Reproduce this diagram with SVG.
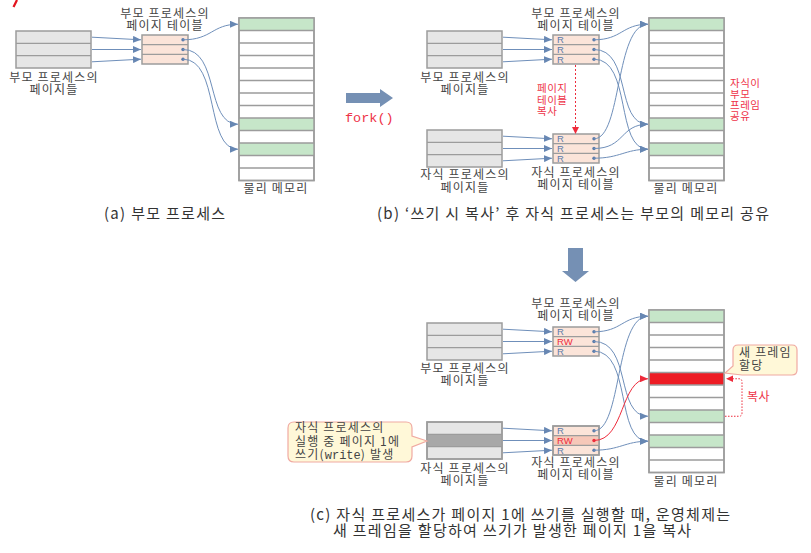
<svg xmlns="http://www.w3.org/2000/svg" width="811" height="553" viewBox="0 0 811 553">
<defs>
<marker id="ab" markerUnits="userSpaceOnUse" markerWidth="8" markerHeight="7" refX="8" refY="3.5" orient="auto"><path d="M0,0 L8,3.5 L0,7 z" fill="#6787b3"/></marker>
<marker id="ar" markerUnits="userSpaceOnUse" markerWidth="8" markerHeight="7" refX="8" refY="3.5" orient="auto"><path d="M0,0 L8,3.5 L0,7 z" fill="#ee2b3b"/></marker>
<style>
text{font-family:"Noto Sans CJK KR","Noto Sans",sans-serif;}
.mono{font-family:"Liberation Mono",monospace;letter-spacing:0;}
.lb{font-size:12px;fill:#444;letter-spacing:1.2px;}
.cap{font-size:15px;fill:#333;letter-spacing:1.3px;}
.rt{font-size:10.5px;fill:#ee3348;letter-spacing:0.5px;}
.pg{fill:#e6e6e6;stroke:#9c9c9c;stroke-width:1.5;}
.pt{fill:#fbe4d9;stroke:#9c9c9c;stroke-width:1.5;}
.mem{fill:#fff;stroke:#9c9c9c;stroke-width:1.5;}
.ln{fill:none;stroke:#9c9c9c;stroke-width:1.3;}
.gr{fill:#c6e6c9;}
.con{fill:none;stroke:#6f8fba;stroke-width:1;marker-end:url(#ab);}
.conr{fill:none;stroke:#ee2b3b;stroke-width:1;marker-end:url(#ar);}
.dot{fill:#5b7cab;}
.r{font-family:"Liberation Sans",sans-serif;font-size:9.5px;fill:#5b7cab;}
.rw{font-family:"Liberation Sans",sans-serif;font-size:9.5px;fill:#ee2b3b;}
.call{fill:#fff8d8;stroke:#f0aaa2;stroke-width:1.2;}
</style>
</defs>
<rect width="811" height="553" fill="#fff"/>
<path d="M17,0 L13.5,7" stroke="#e3141e" stroke-width="2.2" fill="none"/>

<!-- ===== (a) ===== -->
<g id="a-pages">
<rect class="pg" x="16" y="31" width="75" height="37"/>
<path class="ln" d="M16,43.3 H91 M16,55.7 H91"/>
<text class="lb" x="54" y="82" text-anchor="middle">부모 프로세스의</text>
<text class="lb" x="54" y="94" text-anchor="middle">페이지들</text>
</g>
<g id="a-table">
<rect class="pt" x="142" y="35" width="46" height="29"/>
<path class="ln" d="M142,44.7 H188 M142,54.3 H188"/>
<circle class="dot" cx="183" cy="39.8" r="1.7"/><circle class="dot" cx="183" cy="49.5" r="1.7"/><circle class="dot" cx="183" cy="59.2" r="1.7"/>
<text class="lb" x="165" y="18" text-anchor="middle">부모 프로세스의</text>
<text class="lb" x="165" y="30" text-anchor="middle">페이지 테이블</text>
</g>
<g id="a-memory">
<rect class="mem" x="239" y="18" width="75" height="162.5"/>
<rect class="gr" x="239" y="18" width="75" height="12.5"/>
<rect class="gr" x="239" y="118" width="75" height="12.5"/>
<rect class="gr" x="239" y="143" width="75" height="12.5"/>
<path class="ln" d="M239,30.5H314M239,43H314M239,55.5H314M239,68H314M239,80.5H314M239,93H314M239,105.5H314M239,118H314M239,130.5H314M239,143H314M239,155.5H314M239,168H314"/>
<rect class="mem" x="239" y="18" width="75" height="162.5" style="fill:none"/>
<text class="lb" x="276" y="193" text-anchor="middle">물리 메모리</text>
</g>
<g id="a-connectors">
<path class="con" d="M92,37.2 L141,39.8"/>
<path class="con" d="M92,49.5 L141,49.5"/>
<path class="con" d="M92,61.8 L141,59.2"/>
<path class="con" d="M183,39.8 C212,39.8 212,24.25 238,24.25"/>
<path class="con" d="M183,49.5 C220,49.5 205,124.25 238,124.25"/>
<path class="con" d="M183,59.2 C220,59.2 205,149.25 238,149.25"/>
</g>
<text class="cap" x="104" y="219">(a) 부모 프로세스</text>

<!-- fork arrow -->
<g id="fork">
<path d="M346,93 L380,93 L380,89 L393,98 L380,107 L380,103 L346,103 z" fill="#7590b4"/>
<text class="mono" x="345" y="122" style="font-family:'Liberation Mono',monospace;font-size:13.5px;fill:#ee3348">fork()</text>
</g>

<!-- ===== (b) ===== -->
<g id="b-parent-pages">
<rect class="pg" x="427" y="31" width="75" height="37"/>
<path class="ln" d="M427,43.3 H502 M427,55.7 H502"/>
<text class="lb" x="465" y="82" text-anchor="middle">부모 프로세스의</text>
<text class="lb" x="465" y="94" text-anchor="middle">페이지들</text>
</g>
<g id="b-parent-table">
<rect class="pt" x="553" y="35" width="46" height="29"/>
<path class="ln" d="M553,44.7 H599 M553,54.3 H599"/>
<text class="r" x="557" y="43.3">R</text><text class="r" x="557" y="53">R</text><text class="r" x="557" y="62.7">R</text>
<circle class="dot" cx="594" cy="39.8" r="1.7"/><circle class="dot" cx="594" cy="49.5" r="1.7"/><circle class="dot" cx="594" cy="59.2" r="1.7"/>
<text class="lb" x="576" y="18" text-anchor="middle">부모 프로세스의</text>
<text class="lb" x="576" y="30" text-anchor="middle">페이지 테이블</text>
</g>
<g id="b-child-pages">
<rect class="pg" x="427" y="130" width="75" height="37"/>
<path class="ln" d="M427,142.3 H502 M427,154.7 H502"/>
<text class="lb" x="465" y="179" text-anchor="middle">자식 프로세스의</text>
<text class="lb" x="465" y="192" text-anchor="middle">페이지들</text>
</g>
<g id="b-child-table">
<rect class="pt" x="553" y="134" width="46" height="29"/>
<path class="ln" d="M553,143.7 H599 M553,153.3 H599"/>
<text class="r" x="557" y="142.3">R</text><text class="r" x="557" y="152">R</text><text class="r" x="557" y="161.7">R</text>
<circle class="dot" cx="594" cy="138.8" r="1.7"/><circle class="dot" cx="594" cy="148.5" r="1.7"/><circle class="dot" cx="594" cy="158.2" r="1.7"/>
<text class="lb" x="576" y="177" text-anchor="middle">자식 프로세스의</text>
<text class="lb" x="576" y="189" text-anchor="middle">페이지 테이블</text>
</g>
<g id="b-memory">
<rect class="mem" x="649" y="18" width="75" height="162.5"/>
<rect class="gr" x="649" y="18" width="75" height="12.5"/>
<rect class="gr" x="649" y="118" width="75" height="12.5"/>
<rect class="gr" x="649" y="143" width="75" height="12.5"/>
<path class="ln" d="M649,30.5H724M649,43H724M649,55.5H724M649,68H724M649,80.5H724M649,93H724M649,105.5H724M649,118H724M649,130.5H724M649,143H724M649,155.5H724M649,168H724"/>
<rect class="mem" x="649" y="18" width="75" height="162.5" style="fill:none"/>
<text class="lb" x="686" y="193" text-anchor="middle">물리 메모리</text>
</g>
<g id="b-notes">
<text class="rt" x="537" y="92">페이지</text>
<text class="rt" x="537" y="103.5">테이블</text>
<text class="rt" x="537" y="115">복사</text>
<text class="rt" x="730" y="87">자식이</text>
<text class="rt" x="730" y="98">부모</text>
<text class="rt" x="730" y="109">프레임</text>
<text class="rt" x="730" y="120">공유</text>
</g>
<g id="b-connectors">
<path class="con" d="M503,37.2 L552,39.8"/>
<path class="con" d="M503,49.5 L552,49.5"/>
<path class="con" d="M503,61.8 L552,59.2"/>
<path class="con" d="M503,136.2 L552,138.8"/>
<path class="con" d="M503,148.5 L552,148.5"/>
<path class="con" d="M503,160.8 L552,158.2"/>
<path d="M575.5,65 L575.5,128" stroke="#ee2b3b" stroke-width="1" stroke-dasharray="2,2" fill="none"/>
<path d="M572,127 L579,127 L575.5,134 z" fill="#ee2b3b"/>
<path class="con" d="M594,39.8 C622,39.8 622,24.25 648,24.25"/>
<path class="con" d="M594,49.5 C632,49.5 615,124.25 648,124.25"/>
<path class="con" d="M594,59.2 C632,59.2 615,149.25 648,149.25"/>
<path class="con" d="M594,138.8 C622,138.8 615,24.25 648,24.25"/>
<path class="con" d="M594,148.5 C625,148.5 620,124.25 648,124.25"/>
<path class="con" d="M594,158.2 C620,158.2 625,149.25 648,149.25"/>
</g>
<text class="cap" x="377" y="219">(b) ‘쓰기 시 복사’ 후 자식 프로세스는 부모의 메모리 공유</text>

<!-- down arrow -->
<path id="down" d="M568,248 L583,248 L583,271 L589,271 L575.5,282 L562,271 L568,271 z" fill="#7590b4"/>

<!-- ===== (c) ===== -->
<g id="c-parent-pages">
<rect class="pg" x="427" y="323" width="75" height="37"/>
<path class="ln" d="M427,335.3 H502 M427,347.7 H502"/>
<text class="lb" x="465" y="373" text-anchor="middle">부모 프로세스의</text>
<text class="lb" x="465" y="385" text-anchor="middle">페이지들</text>
</g>
<g id="c-parent-table">
<rect class="pt" x="553" y="327" width="46" height="29"/>
<path class="ln" d="M553,336.7 H599 M553,346.3 H599"/>
<text class="r" x="557" y="335.3">R</text><text class="rw" x="557" y="345">RW</text><text class="r" x="557" y="354.7">R</text>
<circle class="dot" cx="594" cy="331.8" r="1.7"/><circle class="dot" cx="594" cy="341.5" r="1.7"/><circle class="dot" cx="594" cy="351.2" r="1.7"/>
<text class="lb" x="576" y="308" text-anchor="middle">부모 프로세스의</text>
<text class="lb" x="576" y="320" text-anchor="middle">페이지 테이블</text>
</g>
<g id="c-child-pages">
<rect class="pg" x="427" y="422" width="75" height="37"/>
<rect x="427" y="434.3" width="75" height="12.4" fill="#a8a8a8"/>
<path class="ln" d="M427,434.3 H502 M427,446.7 H502"/>
<rect class="pg" x="427" y="422" width="75" height="37" style="fill:none"/>
<text class="lb" x="465" y="473" text-anchor="middle">자식 프로세스의</text>
<text class="lb" x="465" y="485" text-anchor="middle">페이지들</text>
</g>
<g id="c-child-table">
<rect class="pt" x="553" y="426" width="46" height="29"/>
<rect x="553" y="435.7" width="46" height="9.6" fill="#f6c8b9"/>
<path class="ln" d="M553,435.7 H599 M553,445.3 H599"/>
<rect class="pt" x="553" y="426" width="46" height="29" style="fill:none"/>
<text class="r" x="557" y="434.3">R</text><text class="rw" x="557" y="444">RW</text><text class="r" x="557" y="453.7">R</text>
<circle class="dot" cx="594" cy="430.8" r="1.7"/><circle cx="594" cy="440.5" r="1.7" fill="#ee2b3b"/><circle class="dot" cx="594" cy="450.2" r="1.7"/>
<text class="lb" x="576" y="467" text-anchor="middle">자식 프로세스의</text>
<text class="lb" x="576" y="479" text-anchor="middle">페이지 테이블</text>
</g>
<g id="c-memory">
<rect class="mem" x="649" y="310" width="75" height="162.5"/>
<rect class="gr" x="649" y="310" width="75" height="12.5"/>
<rect x="649" y="372.5" width="75" height="12.5" fill="#ed1c24"/>
<rect class="gr" x="649" y="410" width="75" height="12.5"/>
<rect class="gr" x="649" y="435" width="75" height="12.5"/>
<path class="ln" d="M649,322.5H724M649,335H724M649,347.5H724M649,360H724M649,372.5H724M649,385H724M649,397.5H724M649,410H724M649,422.5H724M649,435H724M649,447.5H724M649,460H724"/>
<rect class="mem" x="649" y="310" width="75" height="162.5" style="fill:none"/>
<text class="lb" x="686" y="486" text-anchor="middle">물리 메모리</text>
</g>
<g id="c-callout-new">
<path class="call" d="M738,345 H792 Q797,345 797,350 V370 Q797,375 792,375 H742 L725,373 L733,366 V350 Q733,345 738,345 Z"/>
<text class="lb" x="739" y="357">새 프레임</text>
<text class="lb" x="739" y="370">할당</text>
</g>
<g id="c-callout-write">
<path class="call" d="M294,422 H406 Q412,422 412,428 V436 L427,441 L412,447 V456 Q412,462 406,462 H294 Q288,462 288,456 V428 Q288,422 294,422 Z"/>
<text class="lb" x="295" y="432">자식 프로세스의</text>
<text class="lb" x="295" y="446">실행 중 페이지 1에</text>
<text class="lb" x="295" y="459">쓰기(<tspan class="mono" style="font-family:'Liberation Mono',monospace;letter-spacing:0">write</tspan>) 발생</text>
</g>
<g id="c-connectors">
<path class="con" d="M503,329.2 L552,331.8"/>
<path class="con" d="M503,341.5 L552,341.5"/>
<path class="con" d="M503,353.8 L552,351.2"/>
<path class="con" d="M503,428.2 L552,430.8"/>
<path class="con" d="M503,440.5 L552,440.5"/>
<path class="con" d="M503,452.8 L552,450.2"/>
<path class="con" d="M594,331.8 C622,331.8 622,316.25 648,316.25"/>
<path class="con" d="M594,341.5 C632,341.5 615,416.25 648,416.25"/>
<path class="con" d="M594,351.2 C632,351.2 615,441.25 648,441.25"/>
<path class="con" d="M594,430.8 C622,430.8 615,316.25 648,316.25"/>
<path class="conr" d="M594,440.5 C625,440.5 620,378.75 648,378.75"/>
<path class="con" d="M594,450.2 C620,450.2 625,441.25 648,441.25"/>
<path d="M725,416.25 H739 Q742,416.25 742,413 V382 Q742,378.75 739,378.75 H733" stroke="#ee2b3b" stroke-width="1" stroke-dasharray="1.5,1.5" fill="none"/>
<path d="M733,375.5 L733,382 L726,378.75 z" fill="#ee2b3b"/>
<text class="rt" x="747" y="401" style="font-size:12px">복사</text>
</g>
<text class="cap" x="310" y="520">(c) 자식 프로세스가 페이지 1에 쓰기를 실행할 때, 운영체제는</text>
<text class="cap" x="333" y="536">새 프레임을 할당하여 쓰기가 발생한 페이지 1을 복사</text>
</svg>
